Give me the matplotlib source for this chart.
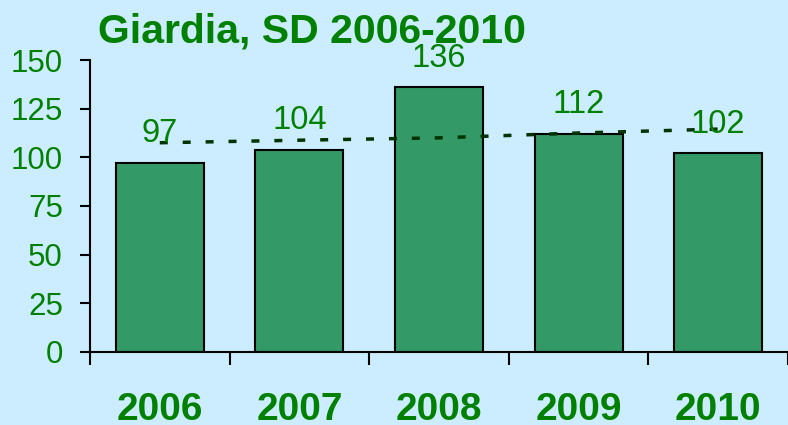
import matplotlib.pyplot as plt
from matplotlib.ticker import FixedLocator

years = ["2006", "2007", "2008", "2009", "2010"]
cases = [97, 104, 136, 112, 102]
trend = [107.5, 108.8, 110.0, 112.5, 114.5]

plt.rcParams["font.family"] = ["Liberation Sans", "DejaVu Sans"]
bg = "#CCECFF"
green = "#008000"

fig = plt.figure(figsize=(7.88, 4.25), dpi=100, facecolor=bg)
ax = fig.add_axes([0.1142, 0.1718, 0.8858, 0.687])
ax.set_facecolor(bg)

x = list(range(len(years)))
ax.bar(x, cases, width=0.63, color="#339966", edgecolor="black", linewidth=1.5, zorder=2)
ax.plot(x, trend, linestyle=(0, (2.3, 4.3)), color="#003300", linewidth=2.5, zorder=3)

for xi, v in zip(x, cases):
    ax.text(xi, v + 15, str(v), ha="center", va="center", fontsize=23.5, color=green, zorder=4)

ax.set_xlim(-0.5, 4.5)
ax.set_ylim(0, 150)
ax.set_yticks(range(0, 151, 25))
ax.tick_params(axis="y", direction="out", length=7.5, width=1.5, pad=12,
               labelsize=22.5, labelcolor=green)

# tick marks at category boundaries, labels at centres
ax.xaxis.set_major_locator(FixedLocator([-0.5, 0.5, 1.5, 2.5, 3.5, 4.5]))
ax.xaxis.set_major_formatter(plt.NullFormatter())
ax.xaxis.set_minor_locator(FixedLocator(x))
ax.set_xticklabels(years, minor=True)
ax.tick_params(axis="x", which="major", direction="out", length=9, width=1.5)
ax.tick_params(axis="x", which="minor", length=0, pad=29, labelsize=28, labelcolor=green)
for lbl in ax.get_xticklabels(minor=True):
    lbl.set_fontweight("bold")

for s in ["top", "right"]:
    ax.spines[s].set_visible(False)
ax.spines["left"].set_linewidth(1.5)
ax.spines["bottom"].set_linewidth(1.5)

fig.text(0.124, 0.901, "Giardia, SD 2006-2010", fontsize=29.5, fontweight="bold",
         color=green, ha="left", va="baseline")

fig.savefig("out.png", dpi=100, facecolor=bg)
